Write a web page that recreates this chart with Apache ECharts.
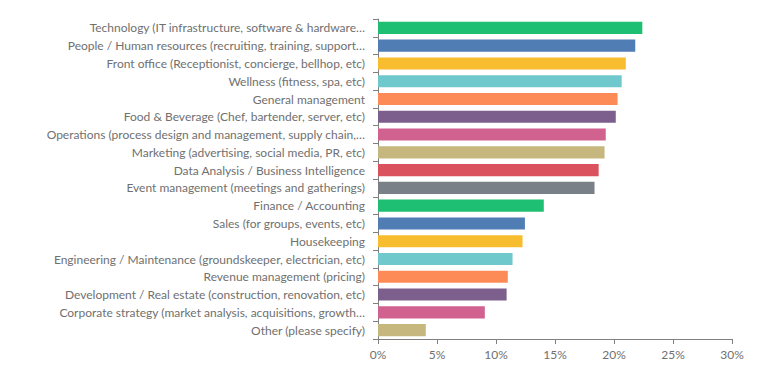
<!DOCTYPE html>
<html>
<head>
<meta charset="utf-8">
<script src="https://cdn.jsdelivr.net/npm/echarts@6/dist/echarts.min.js"></script>
<style>
  html, body { margin: 0; padding: 0; background: #fff; }
  #chart { width: 767px; height: 377px; }
</style>
</head>
<body>
<div id="chart"></div>
<script>
var categories = [
  'Technology (IT infrastructure, software & hardware\u2026',
  'People / Human resources (recruiting, training, support\u2026',
  'Front office (Receptionist, concierge, bellhop, etc)',
  'Wellness (fitness, spa, etc)',
  'General management',
  'Food & Beverage (Chef, bartender, server, etc)',
  'Operations (process design and management, supply chain,\u2026',
  'Marketing (advertising, social media, PR, etc)',
  'Data Analysis / Business Intelligence',
  'Event management (meetings and gatherings)',
  'Finance / Accounting',
  'Sales (for groups, events, etc)',
  'Housekeeping',
  'Engineering / Maintenance (groundskeeper, electrician, etc)',
  'Revenue management (pricing)',
  'Development / Real estate (construction, renovation, etc)',
  'Corporate strategy (market analysis, acquisitions, growth\u2026',
  'Other (please specify)'
];
var shares = [22.4, 21.8, 21.0, 20.65, 20.3, 20.15, 19.3, 19.2, 18.7, 18.35, 14.05, 12.45, 12.25, 11.4, 11.0, 10.9, 9.05, 4.05];
var palette = ['#1fbf73', '#507db4', '#f7bd2e', '#6fc8cb', '#fd8b57', '#7d5f8d', '#d1618f', '#c6b77e', '#d9525e', '#7a8087'];

var axisGray = '#808080';
var textGray = '#707070';

var chart = echarts.init(document.getElementById('chart'), null, { renderer: 'svg' });
chart.setOption({
  animation: false,
  color: palette,
  grid: { left: 378, right: 35, top: 19, bottom: 38 },
  xAxis: {
    type: 'value',
    min: 0,
    max: 30,
    interval: 5,
    axisLine: { show: true, lineStyle: { color: axisGray } },
    axisTick: { show: true, length: 5, lineStyle: { color: axisGray } },
    splitLine: { show: false },
    axisLabel: {
      formatter: '{value}%',
      color: textGray,
      fontFamily: 'Lato',
      fontSize: 12,
      margin: 9
    }
  },
  yAxis: {
    type: 'category',
    inverse: true,
    data: categories,
    axisLine: { show: true, lineStyle: { color: axisGray } },
    axisTick: { show: true, length: 5, lineStyle: { color: axisGray } },
    axisLabel: {
      color: textGray,
      fontFamily: 'Lato',
      fontSize: 12,
      margin: 13
    }
  },
  series: [{
    type: 'bar',
    colorBy: 'data',
    data: shares,
    barCategoryGap: '32%'
  }]
});
</script>
</body>
</html>
